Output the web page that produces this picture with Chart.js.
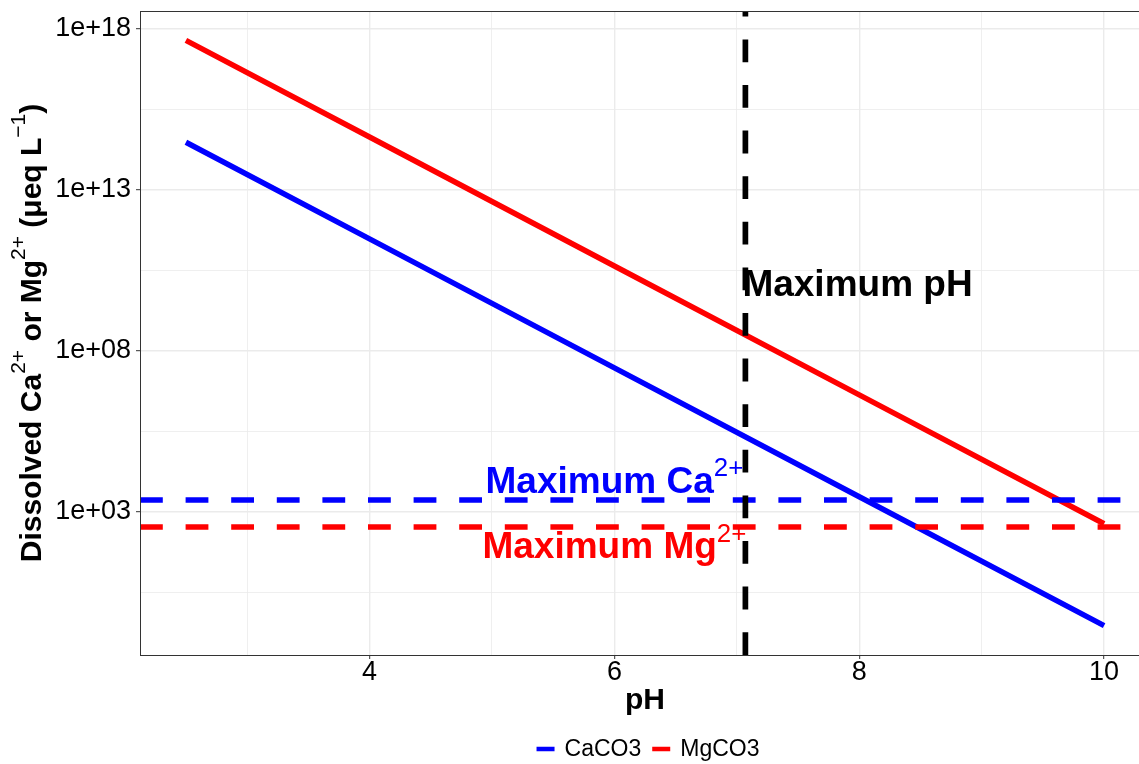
<!DOCTYPE html>
<html>
<head>
<meta charset="utf-8">
<script src="https://cdn.jsdelivr.net/npm/chart.js@4.4.1/dist/chart.umd.min.js"></script>
<style>
  html, body { margin: 0; padding: 0; background: #ffffff; overflow: hidden; }
  #wrap { position: relative; width: 1150px; height: 764px; }
</style>
</head>
<body>
<div id="wrap"><canvas id="c"></canvas></div>
<script>
// ---------------- data ----------------
const phValues = [2.5, 4, 6, 8, 10];
const caco3 = [2.95e14, 2.95e11, 2.95e7, 2.95e3, 0.295];   // dissolved Ca2+ (ueq/L)
const mgco3 = [4.27e17, 4.27e14, 4.27e10, 4.27e6, 427];    // dissolved Mg2+ (ueq/L)
const seriesNames = ['CaCO3', 'MgCO3'];
const seriesColors = ['#0000FF', '#FF0000'];

const maxCa = 2340;     // maximum Ca2+ line
const maxMg = 340;      // maximum Mg2+ line
const maxPH = 7.07;     // maximum pH line

const xTicks = [4, 6, 8, 10];
const xMinor = [3, 5, 7, 9];
const yTicks = [1e3, 1e8, 1e13, 1e18];
const yTickLabels = ['1e+03', '1e+08', '1e+13', '1e+18'];
const yMinor = [3.16, 3.16e5, 3.16e10, 3.16e15];

const xMin = 2.125, xMax = 10.375;
const yMin = 0.0363, yMax = 3.47e18;

// annotation labels (x, y in data units)
const labelPH = { x: maxPH, y: 1.25e10, text: [{ t: 'Maximum pH' }] };
const labelCa = { x: 6, y: 1e4, text: [{ t: 'Maximum Ca' }, { t: '2+', sup: true }] };
const labelMg = { x: 6, y: 1e2, text: [{ t: 'Maximum Mg' }, { t: '2+', sup: true }] };
const yTitle = [
  { t: 'Dissolved Ca' }, { t: '2+', sup: true }, { t: ' or Mg' }, { t: '2+', sup: true },
  { t: ' (\u03BCeq L' }, { t: '\u22121', sup: true }, { t: ')' }
];

// ---------------- helpers ----------------
const FAM = '"Liberation Sans", Arial, sans-serif';
function segFont(s, size, weight) {
  return s.sup ? `${(size * 0.7).toFixed(1)}px ${FAM}` : `${weight} ${size}px ${FAM}`;
}
function richWidth(ctx, segs, size, weight) {
  let w = 0;
  for (const s of segs) { ctx.font = segFont(s, size, weight); w += ctx.measureText(s.t).width; }
  return w;
}
function drawRich(ctx, segs, x, y, align, size, weight, color, raise) {
  const w = richWidth(ctx, segs, size, weight);
  let cx = align === 'center' ? x - w / 2 : (align === 'right' ? x - w : x);
  ctx.fillStyle = color;
  ctx.textBaseline = 'alphabetic';
  ctx.textAlign = 'left';
  for (const s of segs) {
    ctx.font = segFont(s, size, weight);
    ctx.fillText(s.t, cx, s.sup ? y - raise : y);
    cx += ctx.measureText(s.t).width;
  }
}
function near(a, b) { return Math.abs(a - b) <= Math.abs(b) * 1e-6 + 1e-12; }

// ---------------- plugin: border, annotations, y title, legend ----------------
const decor = {
  id: 'decor',
  afterDatasetsDraw(chart) {
    const { ctx, chartArea: a, scales: { x, y } } = chart;
    ctx.save();
    // panel border
    ctx.strokeStyle = '#333333';
    ctx.lineWidth = 1;
    ctx.strokeRect(a.left + 0.5, a.top + 0.5, a.right - a.left - 1, a.bottom - a.top);
    // annotations
    drawRich(ctx, labelPH.text, x.getPixelForValue(labelPH.x) - 3, y.getPixelForValue(labelPH.y) + 13, 'left', 37, 'bold', '#000000', 17);
    drawRich(ctx, labelCa.text, x.getPixelForValue(labelCa.x), y.getPixelForValue(labelCa.y) + 13, 'center', 37, 'bold', seriesColors[0], 17);
    drawRich(ctx, labelMg.text, x.getPixelForValue(labelMg.x), y.getPixelForValue(labelMg.y) + 14, 'center', 37, 'bold', seriesColors[1], 16);
    ctx.restore();
  },
  afterDraw(chart) {
    const { ctx, chartArea: a } = chart;
    ctx.save();
    // y axis title (rotated)
    const cy = (a.top + a.bottom) / 2;
    ctx.translate(41, cy);
    ctx.rotate(-Math.PI / 2);
    drawRich(ctx, yTitle, 0, 0, 'center', 30, 'bold', '#000000', 16);
    ctx.restore();

    // legend
    ctx.save();
    const fs = 23, keyW = 18, keyH = 4.5, gap = 10, itemGap = 11;
    ctx.font = `${fs}px ${FAM}`;
    const widths = seriesNames.map(n => ctx.measureText(n).width);
    let total = 0;
    widths.forEach((w, i) => { total += keyW + gap + w + (i < widths.length - 1 ? itemGap : 0); });
    let lx = (a.left + a.right) / 2 + 3 - total / 2;
    const ly = 749;
    ctx.textBaseline = 'middle';
    ctx.textAlign = 'left';
    seriesNames.forEach((n, i) => {
      ctx.fillStyle = seriesColors[i];
      ctx.fillRect(lx, ly - keyH / 2, keyW, keyH);
      lx += keyW + gap;
      ctx.fillStyle = '#000000';
      ctx.fillText(n, lx, ly + 1);
      lx += widths[i] + itemGap;
    });
    ctx.restore();
  }
};

// ---------------- chart ----------------
const gridColor = '#EBEBEB';
const chart = new Chart(document.getElementById('c'), {
  type: 'line',
  data: {
    datasets: [
      { label: seriesNames[0], data: phValues.map((v, i) => ({ x: v, y: caco3[i] })),
        borderColor: seriesColors[0], borderWidth: 5.5, pointRadius: 0, tension: 0, fill: false, order: 3 },
      { label: seriesNames[1], data: phValues.map((v, i) => ({ x: v, y: mgco3[i] })),
        borderColor: seriesColors[1], borderWidth: 5.5, pointRadius: 0, tension: 0, fill: false, order: 3 },
      { label: 'maxCa', data: [{ x: xMin, y: maxCa }, { x: xMax, y: maxCa }],
        borderColor: seriesColors[0], borderWidth: 5.7, borderDash: [22.8, 22.8], borderCapStyle: 'butt',
        pointRadius: 0, fill: false, order: 2 },
      { label: 'maxMg', data: [{ x: xMin, y: maxMg }, { x: xMax, y: maxMg }],
        borderColor: seriesColors[1], borderWidth: 5.7, borderDash: [22.8, 22.8], borderCapStyle: 'butt',
        pointRadius: 0, fill: false, order: 2 },
      { label: 'maxPH', data: [{ x: maxPH, y: yMin }, { x: maxPH, y: yMax }],
        borderColor: '#000000', borderWidth: 5.7, borderDash: [22.8, 22.8], borderCapStyle: 'butt',
        pointRadius: 0, fill: false, order: 1 }
    ]
  },
  options: {
    animation: false,
    responsive: true,
    maintainAspectRatio: false,
    layout: { padding: { top: 11, left: 0, right: 0, bottom: 0 } },
    plugins: { legend: { display: false }, tooltip: { enabled: false } },
    scales: {
      x: {
        type: 'linear', min: xMin, max: xMax,
        afterBuildTicks(s) { s.ticks = [...xMinor, ...xTicks].sort((a, b) => a - b).map(v => ({ value: v })); },
        afterFit(s) { s.height = 109; s.paddingLeft = 0; s.paddingRight = 0; },
        border: { display: false },
        grid: {
          color: gridColor,
          lineWidth: c => (c.tick && xTicks.includes(c.tick.value)) ? 1.4 : 0.8,
          tickColor: c => (c.tick && xTicks.includes(c.tick.value)) ? '#333333' : 'rgba(0,0,0,0)',
          tickLength: 4, tickWidth: 1
        },
        ticks: {
          autoSkip: false, maxRotation: 0, padding: 0, color: '#000000',
          font: { family: FAM, size: 27, lineHeight: 1 },
          callback: v => xTicks.includes(v) ? String(v) : ''
        },
        title: { display: true, text: 'pH', color: '#000000',
          font: { family: FAM, size: 30, weight: 'bold', lineHeight: 1 },
          padding: { top: 0, bottom: 48 } }
      },
      y: {
        type: 'logarithmic', min: yMin, max: yMax,
        afterBuildTicks(s) { s.ticks = [...yMinor, ...yTicks].sort((a, b) => a - b).map(v => ({ value: v })); },
        afterFit(s) { s.width = 140; s.paddingTop = 0; s.paddingBottom = 0; },
        border: { display: false },
        grid: {
          color: gridColor,
          lineWidth: c => (c.tick && yTicks.some(t => near(c.tick.value, t))) ? 1.4 : 0.8,
          tickColor: c => (c.tick && yTicks.some(t => near(c.tick.value, t))) ? '#333333' : 'rgba(0,0,0,0)',
          tickLength: 4, tickWidth: 1
        },
        ticks: {
          autoSkip: false, padding: 5, color: '#000000',
          font: { family: FAM, size: 27, lineHeight: 1 },
          callback: v => { const i = yTicks.findIndex(t => near(v, t)); return i >= 0 ? yTickLabels[i] : ''; }
        },
        title: { display: false }
      }
    }
  },
  plugins: [decor]
});
</script>
</body>
</html>
